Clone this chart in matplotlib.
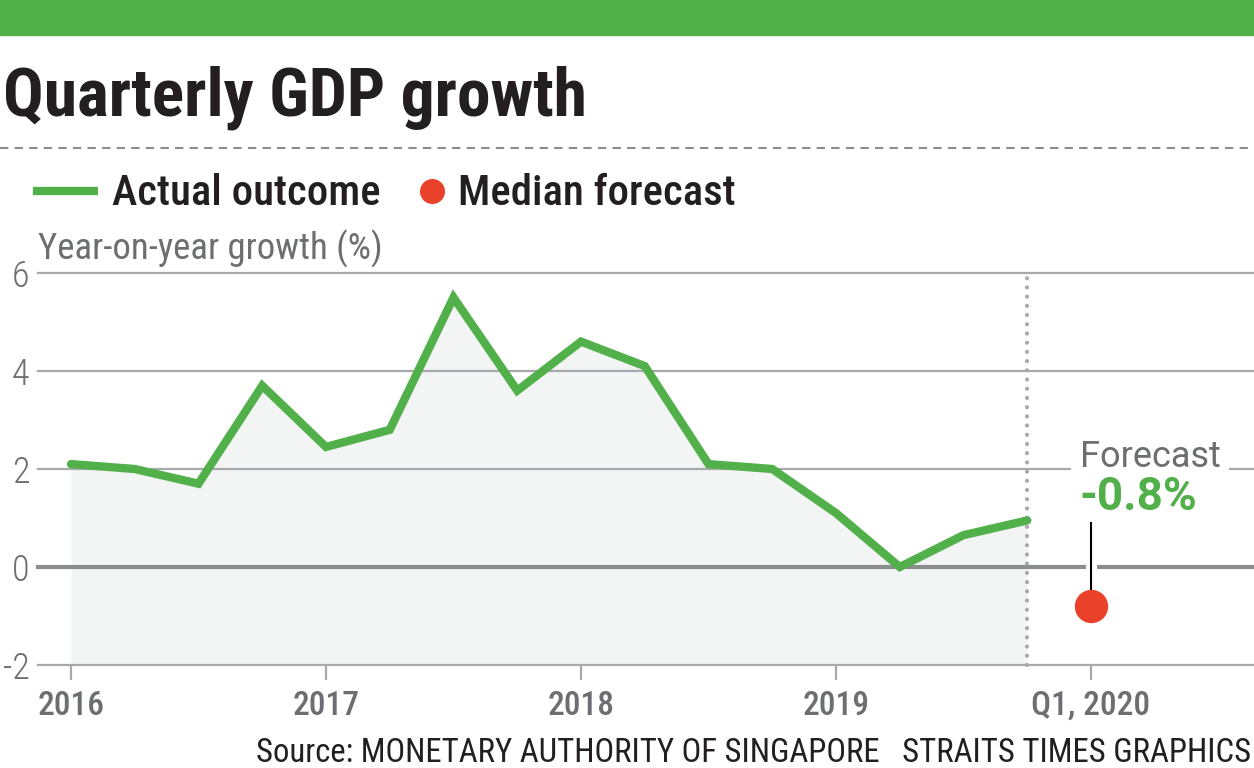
import matplotlib
matplotlib.use("Agg")
import matplotlib.pyplot as plt
from matplotlib.patches import Rectangle
from matplotlib.lines import Line2D

FONT = ['Roboto Condensed', 'Liberation Sans Narrow', 'Roboto', 'DejaVu Sans']
WIDE = ['Roboto', 'DejaVu Sans']
plt.rcParams['font.family'] = FONT

# ---- data ----
years = [2016, 2017, 2018, 2019]
quarters = [1, 2, 3, 4]
growth = [2.1, 2.0, 1.7, 3.7,
          2.45, 2.8, 5.5, 3.6,
          4.6, 4.1, 2.1, 2.0,
          1.1, 0.0, 0.65, 0.95]
forecast_year = 2020
forecast_quarter = 1
forecast_value = -0.8
tick_positions = [2016, 2017, 2018, 2019, 2020]
tick_labels = ['2016', '2017', '2018', '2019', 'Q1, 2020']
y_ticks = [-2, 0, 2, 4, 6]

GREEN = '#52b04a'
RED = '#e9412a'
DARK = '#231f20'
GREY_TXT = '#6d6e71'
GRID = '#a7a9ac'
ZERO = '#8a8c8e'
FILL = '#f3f4f4'

W, H = 1254, 768
fig = plt.figure(figsize=(W / 100, H / 100), dpi=100)


def fx(x):
    return x / W


def fy(y):
    return 1 - y / H


# top green bar
fig.patches.append(Rectangle((0, fy(35)), 1, 35 / H, transform=fig.transFigure,
                             color=GREEN, zorder=0))
# dashed separator
fig.lines.append(Line2D([0, 1], [fy(148), fy(148)], transform=fig.transFigure,
                        color='#8a8c8e', lw=1.5, dashes=(4, 3)))

# title
fig.text(fx(3), fy(116), 'Quarterly GDP growth', fontsize=48.5, fontweight='bold',
         color=DARK, ha='left', va='baseline')

# legend
fig.lines.append(Line2D([fx(33), fx(98)], [fy(191), fy(191)], transform=fig.transFigure,
                        color=GREEN, lw=6, solid_capstyle='butt'))
fig.text(fx(112), fy(205), 'Actual outcome', fontsize=30.8, color=DARK,
         ha='left', va='baseline', fontweight='medium')
fig.lines.append(Line2D([fx(432)], [fy(191)], transform=fig.transFigure,
                        marker='o', markersize=17, color=RED, lw=0))
fig.text(fx(458), fy(205), 'Median forecast', fontsize=30.8, color=DARK,
         ha='left', va='baseline', fontweight='medium')

# y label
fig.text(fx(38), fy(259), 'Year-on-year growth (%)', fontsize=26.5, color=GREY_TXT,
         ha='left', va='baseline')

# source
fig.text(fx(1251), fy(762), 'Source: MONETARY AUTHORITY OF SINGAPORE   STRAITS TIMES GRAPHICS',
         fontsize=23.6, color=DARK, ha='right', va='baseline')

# axes
ax_left, ax_right = 38, 1254
ax_top, ax_bot = 273, 665
ax = fig.add_axes([fx(ax_left), fy(ax_bot), (ax_right - ax_left) / W, (ax_bot - ax_top) / H])
ax.set_facecolor('none')
px_per_year = 255
x0 = 2016 - (71 - ax_left) / px_per_year
x1 = 2016 + (ax_right - 71) / px_per_year
ax.set_xlim(x0, x1)
ax.set_ylim(-2, 6)
for s in ax.spines.values():
    s.set_visible(False)

xs = [y + (q - 1) * 0.25 for y in years for q in quarters]
fx_pos = forecast_year + (forecast_quarter - 1) * 0.25

# gridlines
for yt in y_ticks:
    if yt == 0:
        continue
    ax.axhline(yt, color=GRID, lw=1.6, zorder=1, clip_on=False)
ax.axhline(0, color=ZERO, lw=3, zorder=3, clip_on=False)

# area + line
ax.fill_between(xs, growth, -2, color=FILL, lw=0, zorder=0.5)
ax.plot(xs, growth, color=GREEN, lw=6, solid_joinstyle='miter', solid_capstyle='round',
        zorder=5)

# dotted divider at last quarter
ax.plot([xs[-1], xs[-1]], [-2, 6], color='#a7a9ac', lw=3,
        linestyle=(0, (0.01, 2.2)), dash_capstyle='round', zorder=4, clip_on=False)

# forecast marker and leader
ax.plot([fx_pos, fx_pos], [-0.22, 0.22], color='white', lw=8, zorder=3.5,
        solid_capstyle='butt')
ax.plot([fx_pos, fx_pos], [-0.49, 0.9], color='black', lw=1.5, zorder=6)
ax.plot([fx_pos], [forecast_value], marker='o', markersize=23, color=RED, lw=0, zorder=7)

ax.text(fx_pos - 0.045, 2.25, 'Forecast', fontsize=26, color=GREY_TXT, ha='left',
        va='center', zorder=6, family=WIDE,
        bbox=dict(facecolor='white', edgecolor='none', pad=6))
ax.text(fx_pos - 0.047, 1.43, f'{forecast_value}%', fontsize=33, color=GREEN,
        fontweight='bold', ha='left', va='center', zorder=6, family=WIDE)

# ticks
ax.set_yticks(y_ticks)
ax.set_yticklabels([str(v) for v in y_ticks])
ax.tick_params(axis='y', length=0, pad=6, labelsize=26, labelcolor=GREY_TXT)
ax.set_xticks(tick_positions)
ax.set_xticklabels(tick_labels)
ax.tick_params(axis='x', length=11, width=1.6, color=GRID, pad=7, labelsize=24,
               labelcolor=GREY_TXT)
for lbl in ax.get_xticklabels():
    lbl.set_fontweight('medium')
for lbl in ax.get_yticklabels():
    lbl.set_fontweight('light')

fig.savefig('out.png', dpi=100)
